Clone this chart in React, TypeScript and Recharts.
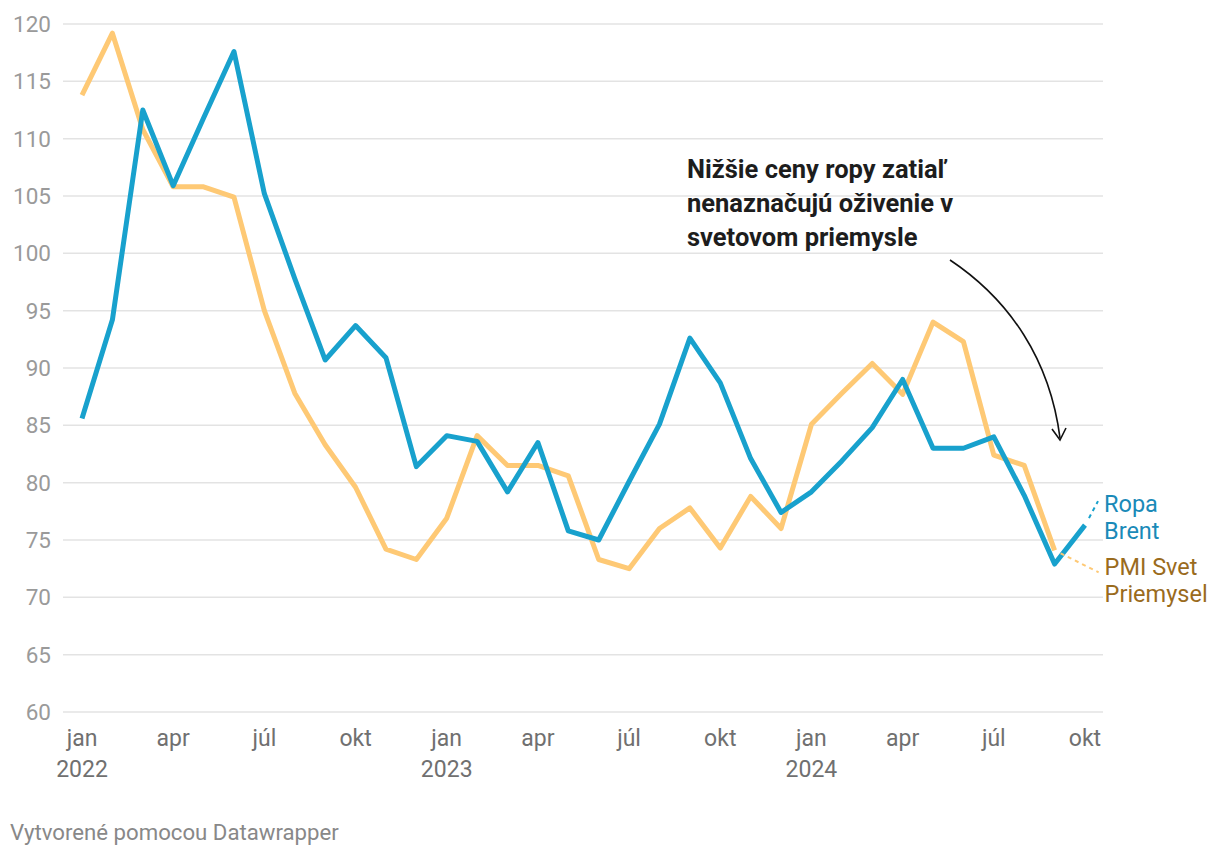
import React from 'react';
import { LineChart, Line, XAxis, YAxis, CartesianGrid, LabelList } from 'recharts';

// months from jan 2022 to okt 2024
const months = [
  '2022-01', '2022-02', '2022-03', '2022-04', '2022-05', '2022-06',
  '2022-07', '2022-08', '2022-09', '2022-10', '2022-11', '2022-12',
  '2023-01', '2023-02', '2023-03', '2023-04', '2023-05', '2023-06',
  '2023-07', '2023-08', '2023-09', '2023-10', '2023-11', '2023-12',
  '2024-01', '2024-02', '2024-03', '2024-04', '2024-05', '2024-06',
  '2024-07', '2024-08', '2024-09', '2024-10',
];

const brent = [
  85.6, 94.2, 112.5, 105.9, 111.8, 117.6, 105.2, 97.8, 90.7, 93.7, 90.9, 81.4,
  84.1, 83.6, 79.2, 83.5, 75.8, 75.0, 80.1, 85.1, 92.6, 88.7, 82.1, 77.4,
  79.2, 81.9, 84.8, 89.0, 83.0, 83.0, 84.0, 78.9, 72.9, 76.3,
];

const pmi = [
  113.8, 119.2, 110.8, 105.8, 105.8, 104.9, 95.0, 87.8, 83.3, 79.6, 74.2, 73.3,
  76.9, 84.1, 81.5, 81.5, 80.6, 73.3, 72.5, 76.0, 77.8, 74.3, 78.8, 76.0,
  85.1, 87.8, 90.4, 87.7, 94.0, 92.3, 82.4, 81.5, 74.1, null,
];

const yTicks = [60, 65, 70, 75, 80, 85, 90, 95, 100, 105, 110, 115, 120];
const monthNames: Record<string, string> = { '01': 'jan', '04': 'apr', '07': 'júl', '10': 'okt' };

const BLUE = '#18a1cd';
const ORANGE = '#fec975';
const FONT = 'Roboto, sans-serif';

const data = months.map((m, i) => ({ i, month: m, brent: brent[i], pmi: pmi[i] }));
const xTicks = months.map((m, i) => (monthNames[m.slice(5)] ? i : -1)).filter((i) => i >= 0);
const lastBrent = brent.length - 1;
const lastPmi = pmi.reduce((acc: number, v, i) => (v != null ? i : acc), 0);

function MonthTick({ x, y, payload }: any) {
  const m = months[payload.value];
  const label = monthNames[m.slice(5)];
  const isJan = m.slice(5) === '01';
  return (
    <g>
      <text x={x} y={y + 34} textAnchor="middle" fontSize={23} fill="#707070" fontFamily={FONT}>
        {label}
      </text>
      {isJan && (
        <text x={x} y={y + 65} textAnchor="middle" fontSize={23} fill="#707070" fontFamily={FONT}>
          {m.slice(0, 4)}
        </text>
      )}
    </g>
  );
}

function BrentLabel({ x, y, index }: any) {
  if (index !== lastBrent || x == null) return null;
  return (
    <g>
      <line x1={x + 4} y1={y - 7} x2={x + 13} y2={y - 24} stroke={BLUE} strokeWidth={2} strokeDasharray="4 4" />
      <text x={x + 19} y={y - 13} fontSize={23.5} fill="#1a8ab8" fontFamily={FONT}>Ropa</text>
      <text x={x + 19} y={y + 14} fontSize={23.5} fill="#1a8ab8" fontFamily={FONT}>Brent</text>
    </g>
  );
}

function PmiLabel({ x, y, index }: any) {
  if (index !== lastPmi || x == null) return null;
  return (
    <g>
      <line x1={x + 6} y1={y + 3} x2={x + 44} y2={y + 22} stroke={ORANGE} strokeWidth={2} strokeDasharray="4 4" />
      <text x={x + 50} y={y + 25} fontSize={23.5} fill="#9a6b1d" fontFamily={FONT}>PMI Svet</text>
      <text x={x + 50} y={y + 52} fontSize={23.5} fill="#9a6b1d" fontFamily={FONT}>Priemysel</text>
    </g>
  );
}

export default function App() {
  return (
    <div style={{ position: 'absolute', top: 0, left: 0, width: 1220, height: 858, background: '#fff', fontFamily: FONT }}>
      <LineChart width={1220} height={782} data={data} margin={{ top: 24, right: 117, left: 0, bottom: 0 }}>
        <CartesianGrid vertical={false} stroke="#e3e3e3" strokeWidth={1.5} />
        <XAxis
          dataKey="i"
          type="number"
          domain={[0, 33]}
          ticks={xTicks}
          interval={0}
          padding={{ left: 19, right: 18 }}
          axisLine={false}
          tickLine={false}
          tickSize={0}
          tickMargin={0}
          height={70}
          tick={<MonthTick />}
        />
        <YAxis
          domain={[60, 120]}
          ticks={yTicks}
          interval={0}
          width={63}
          axisLine={false}
          tickLine={false}
          tickSize={0}
          tickMargin={12}
          tick={{ fontSize: 22.5, fill: '#9a9a9a', fontFamily: FONT }}
        />
        <Line
          dataKey="pmi"
          type="linear"
          stroke={ORANGE}
          strokeWidth={5}
          strokeLinejoin="round"
          dot={false}
          isAnimationActive={false}
        >
          <LabelList dataKey="pmi" content={<PmiLabel />} />
        </Line>
        <Line
          dataKey="brent"
          type="linear"
          stroke={BLUE}
          strokeWidth={5}
          strokeLinejoin="round"
          dot={false}
          isAnimationActive={false}
        >
          <LabelList dataKey="brent" content={<BrentLabel />} />
        </Line>
      </LineChart>
      <svg width={1220} height={858} style={{ position: 'absolute', top: 0, left: 0, pointerEvents: 'none' }}>
        <g fontFamily={FONT} fontSize={25.5} fontWeight={700} fill="#1d1d1d">
          <text x={687} y={178}>Nižšie ceny ropy zatiaľ</text>
          <text x={687} y={212}>nenaznačujú oživenie v</text>
          <text x={687} y={246}>svetovom priemysle</text>
        </g>
        <path d="M950,260 C1010,300 1050,360 1060,438" fill="none" stroke="#111" strokeWidth={1.6} />
        <path d="M1052,429 L1060,440 L1066,428" fill="none" stroke="#111" strokeWidth={1.6} />
        <text x={10} y={840} fontFamily={FONT} fontSize={22.2} fill="#888">Vytvorené pomocou Datawrapper</text>
      </svg>
    </div>
  );
}
